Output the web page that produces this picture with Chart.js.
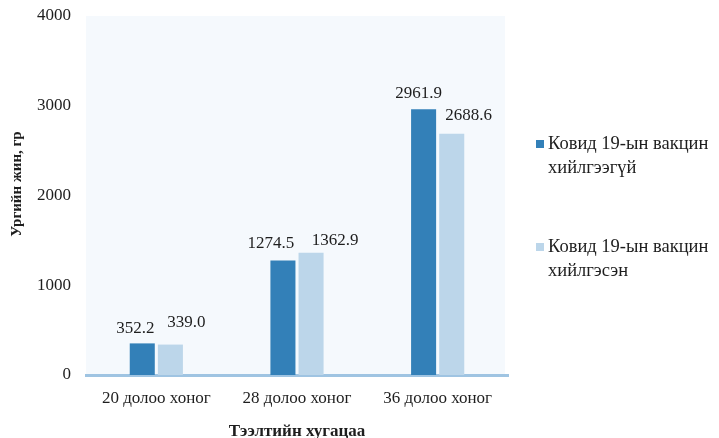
<!DOCTYPE html>
<html>
<head>
<meta charset="utf-8">
<script src="https://cdn.jsdelivr.net/npm/chart.js@4"></script>
<style>
  html, body { margin: 0; padding: 0; background: #fff; }
  #wrap { width: 719px; height: 438px; position: relative; }
</style>
</head>
<body>
<div id="wrap"><canvas id="grafica"></canvas></div>
<script>
// data
const categories = ["20 долоо хоног", "28 долоо хоног", "36 долоо хоног"];
const notVaccinated = [352.2, 1274.5, 2961.9];
const vaccinated = [339.0, 1362.9, 2688.6];
const seriesNames = [
  ["Ковид 19-ын вакцин", "хийлгээгүй"],
  ["Ковид 19-ын вакцин", "хийлгэсэн"]
];
const yTicks = [0, 1000, 2000, 3000, 4000];
const yTitle = "Ургийн жин, гр";
const xTitle = "Тээлтийн хугацаа";

const serif = "'Liberation Serif', 'Times New Roman', serif";
const textColor = "#1e1e1e";

// light blue plot background
const plotBg = {
  id: "plotBg",
  beforeDraw(chart) {
    const { ctx, chartArea: a } = chart;
    ctx.save();
    ctx.fillStyle = "#f5f9fd";
    ctx.fillRect(a.left, a.top, a.right - a.left - 3, a.bottom - a.top);
    ctx.restore();
  }
};

// value labels, nudged sideways like in the original
const valueLabels = {
  id: "valueLabels",
  afterDatasetsDraw(chart, args, opts) {
    const ctx = chart.ctx;
    ctx.save();
    ctx.font = "17px " + serif;
    ctx.fillStyle = textColor;
    ctx.textAlign = "center";
    ctx.textBaseline = "middle";
    chart.data.datasets.forEach((ds, i) => {
      const meta = chart.getDatasetMeta(i);
      meta.data.forEach((bar, j) => {
        const dx = opts.dx[i][j];
        const dy = opts.dy[i][j];
        ctx.fillText(ds.data[j].toFixed(1), bar.x + dx, bar.y - dy);
      });
    });
    ctx.restore();
  }
};

// y axis title, placed by hand
const yTitleDraw = {
  id: "yTitleDraw",
  afterDraw(chart) {
    const ctx = chart.ctx;
    ctx.save();
    ctx.translate(17, 184);
    ctx.rotate(-Math.PI / 2);
    ctx.font = "bold 15px " + serif;
    ctx.fillStyle = textColor;
    ctx.textAlign = "center";
    ctx.textBaseline = "middle";
    ctx.fillText(yTitle, 0, 0);
    ctx.restore();
  }
};

// legend on the right with two-line names
const sideLegend = {
  id: "sideLegend",
  afterDraw(chart) {
    const ctx = chart.ctx;
    ctx.save();
    ctx.font = "18.5px " + serif;
    ctx.textBaseline = "middle";
    chart.data.datasets.forEach((ds, i) => {
      const y0 = 144 + i * 103;
      ctx.fillStyle = ds.backgroundColor;
      ctx.fillRect(536, y0 - 4, 8, 8);
      ctx.fillStyle = textColor;
      seriesNames[i].forEach((line, k) => {
        ctx.fillText(line, 548, y0 + k * 24);
      });
    });
    ctx.restore();
  }
};

const ctx = document.getElementById("grafica").getContext("2d");

const chart = new Chart(ctx, {
  type: "bar",
  data: {
    labels: categories,
    datasets: [
      {
        label: seriesNames[0].join(" "),
        data: notVaccinated,
        backgroundColor: "#3380b8"
      },
      {
        label: seriesNames[1].join(" "),
        data: vaccinated,
        backgroundColor: "#bcd6ea"
      }
    ]
  },
  options: {
    responsive: true,
    maintainAspectRatio: false,
    animation: false,
    layout: { padding: { top: 16, right: 211, bottom: 0, left: 0 } },
    datasets: {
      bar: { categoryPercentage: 0.4, barPercentage: 0.89 }
    },
    plugins: {
      legend: { display: false },
      tooltip: { enabled: false },
      valueLabels: {
        dx: [[-7, -12, -5], [16, 24, 17]],
        dy: [[15, 17, 16], [22, 12, 18]]
      }
    },
    scales: {
      x: {
        grid: { display: false, drawTicks: false },
        border: { display: true, color: "#9fc4e2", width: 3 },
        ticks: {
          color: textColor,
          font: { family: serif, size: 17 },
          padding: 13,
          maxRotation: 0
        },
        title: {
          display: true,
          text: xTitle,
          color: textColor,
          font: { family: serif, size: 17, weight: "bold", lineHeight: 1 },
          padding: { top: 0, bottom: -2 }
        },
        afterFit(scale) { scale.height = 63; }
      },
      y: {
        min: 0,
        max: 4000,
        afterBuildTicks(scale) {
          scale.ticks = yTicks.map(v => ({ value: v }));
        },
        grid: { display: false, drawTicks: false },
        border: { display: false },
        ticks: {
          color: textColor,
          font: { family: serif, size: 17 },
          padding: 15,
          callback: v => String(v)
        },
        afterFit(scale) {
          scale.width = 86;
          scale.paddingTop = 0;
          scale.paddingBottom = 0;
        }
      }
    }
  },
  plugins: [plotBg, valueLabels, yTitleDraw, sideLegend]
});
</script>
</body>
</html>
